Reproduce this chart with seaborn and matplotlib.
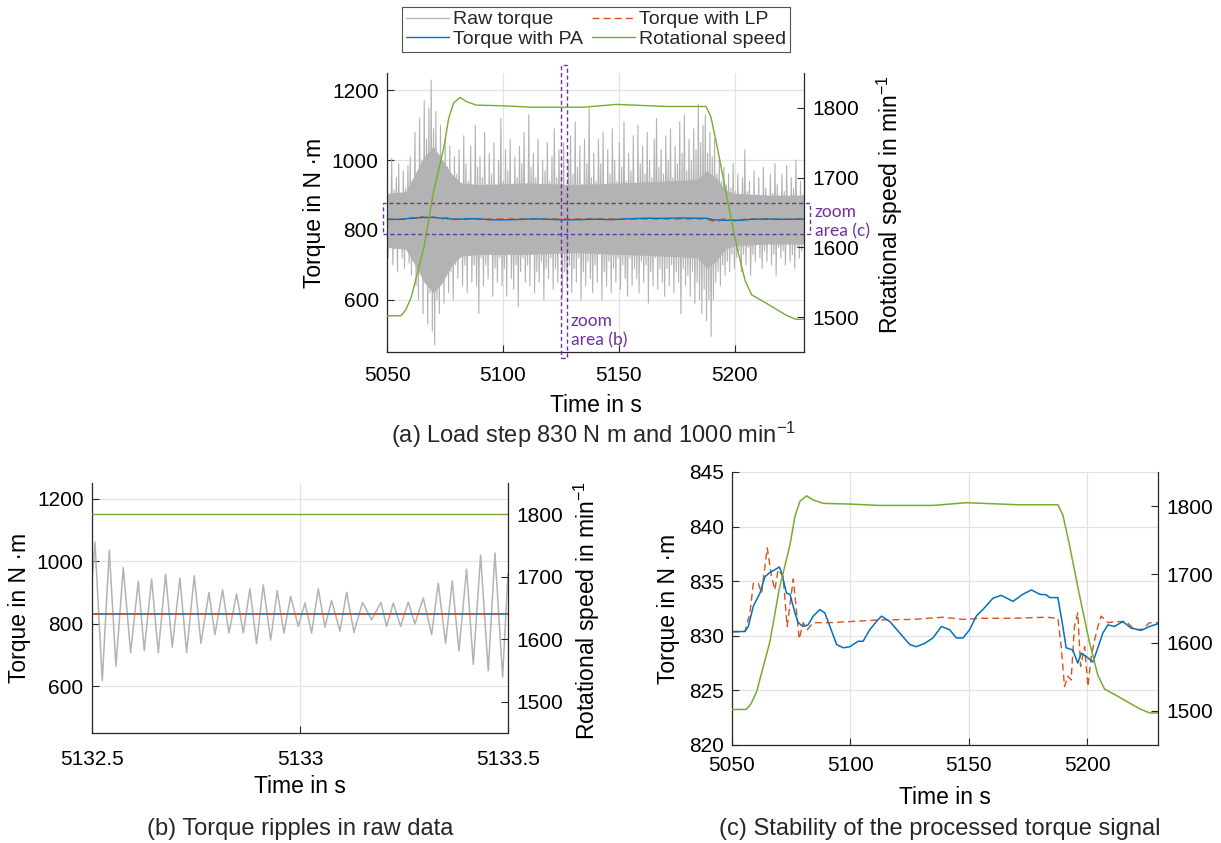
import numpy as np
import matplotlib
matplotlib.use("Agg")
import matplotlib.pyplot as plt
import seaborn as sns
from matplotlib.patches import Rectangle
from matplotlib.lines import Line2D

sns.set_theme(style="white")
plt.rcParams['font.family'] = ['Liberation Sans', 'DejaVu Sans']
plt.rcParams['mathtext.default'] = 'regular'

# ---------------------------------------------------------------- data
# raw torque of the load step, alternating local extremes (N m)
raw_torque = [
    960, 720, 900, 760, 1005, 700, 915, 745, 950, 680, 990, 755, 905, 720, 970, 690, 920, 760, 985, 705,
    1010, 670, 940, 720, 1080, 640, 960, 600, 1120, 690, 1000, 560, 1170, 650, 1060, 530, 1150, 620, 1230, 510,
    1090, 470, 1140, 600, 1010, 560, 1100, 650, 960, 590, 1060, 700, 980, 620, 1040, 680, 940, 600, 1010, 700,
    960, 660, 1030, 740, 920, 640, 1070, 700, 990, 620, 940, 760, 1040, 650, 910, 700, 1100, 640, 980, 560,
    1010, 720, 950, 640, 1080, 700, 930, 660, 1020, 750, 960, 610, 1050, 690, 920, 650, 1000, 720, 1120, 640,
    940, 690, 1030, 610, 970, 740, 1060, 660, 920, 630, 1010, 700, 950, 580, 1040, 680, 990, 720, 1080, 650,
    930, 700, 1130, 640, 980, 730, 1020, 620, 950, 680, 1060, 650, 920, 710, 1000, 600, 970, 690, 1050, 660,
    940, 720, 1010, 630, 1090, 690, 950, 650, 1030, 740, 960, 610, 1050, 680, 920, 640, 1000, 700, 1070, 620,
    960, 690, 1110, 650, 980, 720, 1040, 600, 930, 680, 1060, 640, 990, 710, 1150, 660, 950, 620, 1020, 700,
    940, 650, 1060, 730, 990, 600, 1080, 680, 920, 640, 1030, 710, 960, 620, 1090, 690, 1000, 650, 940, 720,
    1050, 630, 980, 700, 1110, 660, 940, 610, 1020, 720, 970, 640, 1070, 690, 930, 660, 1100, 620, 990, 710,
    1040, 650, 960, 700, 1080, 590, 1000, 680, 950, 640, 1060, 720, 1120, 630, 980, 690, 1030, 650, 960, 610,
    1070, 690, 1000, 640, 1090, 700, 950, 620, 1040, 680, 990, 650, 1110, 560, 1020, 690, 1130, 640, 970, 670,
    1060, 610, 1000, 680, 1090, 590, 1030, 650, 1160, 600, 1050, 560, 1100, 630, 1130, 540, 1020, 600, 1080, 495,
    1010, 600, 1060, 650, 960, 680, 1000, 640, 940, 700, 980, 670, 930, 710, 960, 680, 920, 730, 990, 690,
    910, 720, 960, 740, 890, 680, 950, 730, 1030, 700, 910, 750, 940, 670, 880, 730, 970, 710, 900, 760,
    950, 720, 890, 690, 980, 740, 920, 710, 870, 760, 960, 700, 905, 730, 990, 670, 930, 750, 880, 720,
    960, 740, 910, 700, 985, 760, 890, 710, 950, 730, 920, 690, 1000, 750, 880, 720, 940, 740, 900, 770,
]
raw_time = np.linspace(5050, 5230, len(raw_torque))

# dense core of the raw torque band (N m)
raw_core_time = [5050, 5058, 5062, 5066, 5070, 5074, 5078, 5082, 5090, 5110,
                 5130, 5150, 5170, 5184, 5188, 5192, 5196, 5200, 5215, 5230]
raw_core_high = [905, 910, 960, 1010, 1040, 1000, 960, 935, 930, 935,
                 930, 935, 940, 945, 970, 950, 915, 905, 900, 900]
raw_core_low = [750, 745, 700, 650, 620, 650, 700, 725, 730, 730,
                735, 730, 725, 720, 690, 710, 745, 755, 760, 760]

# low-pass filtered torque (N m)
lp_time = [5050, 5055.5, 5057.6, 5059, 5061.1, 5062.5, 5064.9, 5066.7, 5068.1, 5069.5,
           5071.6, 5073.3, 5075.9, 5078.4, 5080.1, 5081.8, 5084.3, 5091.4, 5099.8, 5112.4,
           5126.5, 5139.1, 5147.6, 5154.6, 5168.7, 5182.8, 5187.7, 5189.1, 5190.5, 5191.9,
           5193.3, 5194.7, 5196.1, 5197.3, 5199, 5200.4, 5201.8, 5203.2, 5204.6, 5206,
           5208.8, 5212.3, 5216.6, 5220.1, 5223.5, 5226.4, 5230]
torque_lp = [830.4, 830.4, 832.1, 834.8, 834.8, 833.9, 838.05, 835.45, 834.2, 836.05,
             835.45, 830.85, 835.2, 829.7, 831.2, 830.55, 831.2, 831.2, 831.3, 831.45,
             831.5, 831.7, 831.5, 831.6, 831.6, 831.7, 831.6, 829.0, 825.35, 826.3,
             825.95, 830.85, 832.1, 827.2, 829.0, 825.35, 828.1, 829.6, 830.85, 831.8,
             831.2, 831.3, 831.3, 830.55, 830.6, 831.2, 831.2]

# phase-averaged torque (N m)
pa_time = [5050, 5055.5, 5056.9, 5059, 5061.8, 5063.9, 5066, 5068.1, 5070, 5071,
           5073, 5074.5, 5076.6, 5078, 5080, 5082.2, 5084.3, 5087.1, 5089.2, 5091.4,
           5094.2, 5097, 5099.8, 5103.3, 5105.4, 5108.2, 5111, 5113.2, 5116.7, 5120.9,
           5125.1, 5127.9, 5131.4, 5134.9, 5138.5, 5142, 5144.8, 5147.6, 5150.4, 5153.2,
           5156, 5160.3, 5163.8, 5168.7, 5172.9, 5176.5, 5180, 5182.8, 5184.2, 5187.7,
           5189.8, 5191.2, 5194, 5196.1, 5197.6, 5199.7, 5202.5, 5204.6, 5206.7, 5208.8,
           5211.6, 5215.1, 5218.7, 5222.9, 5226.4, 5230]
torque_pa = [830.35, 830.4, 830.85, 832.7, 833.9, 835.4, 835.8, 836.05, 836.3, 835.75,
             833.9, 833.8, 832.1, 831.2, 830.85, 831.0, 831.8, 832.4, 832.1, 830.85,
             829.2, 828.9, 829.0, 829.5, 829.5, 830.55, 831.3, 831.8, 831.3, 830.25,
             829.2, 829.0, 829.3, 829.8, 830.85, 830.55, 829.8, 829.8, 830.55, 831.8,
             832.4, 833.45, 833.7, 833.15, 833.8, 834.2, 833.8, 833.75, 833.5, 833.5,
             830.85, 828.9, 828.7, 827.5, 828.4, 828.1, 827.6, 828.9, 830.25, 831.0,
             830.85, 831.3, 830.7, 830.5, 830.85, 831.1]

# rotational speed (1/min)
speed_time = [5050, 5056, 5058, 5060.4, 5066, 5070, 5074.5, 5076.6, 5078.7, 5081.5,
              5084.3, 5088.5, 5100, 5112, 5135, 5149, 5171, 5187.7, 5189.8, 5192.6,
              5196.8, 5201, 5204.6, 5207.4, 5213.7, 5222.2, 5226.4, 5230]
speed = [1502, 1502, 1510, 1528, 1601, 1679, 1743, 1785, 1807, 1815,
         1809, 1804, 1803, 1801, 1801, 1805, 1802, 1802, 1787, 1743,
         1670, 1601, 1552, 1532, 1520, 1503, 1497, 1497]

# one second of raw torque around t = 5133 s (ripple extremes)
ripple_time = 5132.5 + np.array([
    0.0, 0.0072, 0.0248, 0.0417, 0.0577, 0.0753, 0.0930, 0.1114, 0.1258, 0.1434,
    0.1595, 0.1771, 0.1931, 0.2115, 0.2276, 0.2460, 0.2620, 0.2812, 0.2957, 0.3141,
    0.3293, 0.3478, 0.3638, 0.3798, 0.3958, 0.4119, 0.4295, 0.4455, 0.4615, 0.4776,
    0.4960, 0.5120, 0.5280, 0.5441, 0.5601, 0.5761, 0.5962, 0.6122, 0.6298, 0.6506,
    0.6723, 0.6947, 0.7083, 0.7244, 0.7420, 0.7604, 0.7764, 0.7965, 0.8165, 0.8325,
    0.8502, 0.8662, 0.8822, 0.9006, 0.9167, 0.9343, 0.9527, 0.9688, 0.9872, 1.0])
ripple_torque = [930, 1061, 617, 1035, 663, 979, 707, 936, 714, 943,
                 707, 958, 725, 945, 707, 953, 737, 899, 765, 908,
                 770, 895, 770, 911, 736, 924, 747, 905, 770, 887,
                 791, 866, 770, 911, 789, 874, 776, 900, 772, 868,
                 812, 868, 791, 866, 791, 869, 799, 882, 765, 929,
                 737, 936, 712, 974, 670, 1019, 649, 1026, 629, 960]
ripple_span = [5132.5, 5133.5]
ripple_lp = [831.5, 831.5]
ripple_pa = [829.4, 829.4]
ripple_speed = [1800, 1800]

# zoom windows marked in the overview
zoom_b_window = (5125.0, 5127.6)
zoom_c_band = (788, 876)

# ---------------------------------------------------------------- style
C_RAW = '#b3b3b3'
C_LP = '#D95319'
C_PA = '#0072BD'
C_SPD = '#77AC30'
C_ZOOM = '#7030A0'
AXC = '#262626'
TICK_FS = 15
LABEL_FS = 16.5
CAP_FS = 17
LP_DASH = (0, (5, 3))

fig = plt.figure(figsize=(12.21, 8.43), dpi=100)
axA = fig.add_axes([0.3170, 0.5824, 0.3415, 0.3310])
axB = fig.add_axes([0.0753, 0.1305, 0.3407, 0.2966])
axC = fig.add_axes([0.5995, 0.1163, 0.3489, 0.3238])
axA2, axB2, axC2 = axA.twinx(), axB.twinx(), axC.twinx()


def dress(ax, ax2, xlim, xticks, xlabels, ylim, yticks, ylim2, yticks2, xpad):
    ax.set_xlim(*xlim)
    ax.set_ylim(*ylim)
    ax2.set_ylim(*ylim2)
    ax.set_xticks(xticks)
    ax.set_xticklabels(xlabels)
    ax.set_yticks(yticks)
    ax2.set_yticks(yticks2)
    ax.grid(True, color='#e2e2e2', linewidth=0.9)
    ax.set_axisbelow(True)
    ax2.grid(False)
    for s in ('top', 'right'):
        ax.spines[s].set_visible(False)
    for s in ('top', 'left', 'bottom'):
        ax2.spines[s].set_visible(False)
    for sp in (ax.spines['left'], ax.spines['bottom'], ax2.spines['right']):
        sp.set_color(AXC)
        sp.set_linewidth(0.9)
    ax.tick_params(axis='x', bottom=True, top=False, direction='in', length=5,
                   width=0.8, pad=xpad, labelsize=TICK_FS, color=AXC, labelcolor='black')
    ax.tick_params(axis='y', left=True, right=False, direction='in', length=5,
                   width=0.8, pad=6, labelsize=TICK_FS, color=AXC, labelcolor='black')
    ax2.tick_params(axis='y', right=True, left=False, direction='in', length=5,
                    width=0.8, pad=6, labelsize=TICK_FS, color=AXC, labelcolor='black')
    ax.set_xlabel('')
    ax.set_ylabel('')
    ax2.set_ylabel('')


def place_label(axis, text, x, y, rotation=0):
    axis.set_label_text(text, fontsize=LABEL_FS, color='black')
    axis.set_label_coords(x, y)
    axis.label.set_va('center')
    axis.label.set_ha('center')
    axis.label.set_rotation(rotation)


line_kw = dict(estimator=None, sort=False, legend=False)

# ---------------------------------------------------------------- (a) overview
axA.fill_between(raw_core_time, raw_core_low, raw_core_high, color=C_RAW, lw=0, zorder=2)
sns.lineplot(x=raw_time, y=raw_torque, ax=axA, color=C_RAW, linewidth=0.8, **line_kw)
sns.lineplot(x=lp_time, y=torque_lp, ax=axA, color=C_LP, linewidth=1.0, linestyle=LP_DASH, **line_kw)
sns.lineplot(x=pa_time, y=torque_pa, ax=axA, color=C_PA, linewidth=1.0, **line_kw)
sns.lineplot(x=speed_time, y=speed, ax=axA2, color=C_SPD, linewidth=1.0, **line_kw)
dress(axA, axA2, (5050, 5230), [5050, 5100, 5150, 5200], ['5050', '5100', '5150', '5200'],
      (450, 1250), [600, 800, 1000, 1200], (1450, 1850), [1500, 1600, 1700, 1800], xpad=10)

# zoom markers
axA.add_patch(Rectangle((zoom_b_window[0], 433), zoom_b_window[1] - zoom_b_window[0], 839,
                        fill=False, ec=C_ZOOM, lw=1.0, ls=(0, (3, 2)), clip_on=False, zorder=6))
axA.add_patch(Rectangle((5048.3, zoom_c_band[0]), 184.3, zoom_c_band[1] - zoom_c_band[0],
                        fill=False, ec=C_ZOOM, lw=1.0, ls=(0, (3, 2)), clip_on=False, zorder=6))
axA.text(1.026, 0.468, 'zoom\narea (c)', transform=axA.transAxes, ha='left', va='center',
         color=C_ZOOM, fontsize=12.5, family=['Lato', 'DejaVu Sans'], linespacing=1.25)
axA.text(0.441, 0.075, 'zoom\narea (b)', transform=axA.transAxes, ha='left', va='center',
         color=C_ZOOM, fontsize=12.5, family=['Lato', 'DejaVu Sans'], linespacing=1.25)

place_label(axA.xaxis, 'Time in s', 0.5, -0.19)
place_label(axA.yaxis, 'Torque in N \u00b7m', -0.175, 0.5, 90)
place_label(axA2.yaxis, 'Rotational speed in min$^{-1}$', 1.206, 0.527, 90)

# ---------------------------------------------------------------- (b) ripples
sns.lineplot(x=ripple_time, y=ripple_torque, ax=axB, color=C_RAW, linewidth=1.1, **line_kw)
sns.lineplot(x=ripple_span, y=ripple_pa, ax=axB, color=C_PA, linewidth=1.2, **line_kw)
sns.lineplot(x=ripple_span, y=ripple_lp, ax=axB, color=C_LP, linewidth=1.2, linestyle=LP_DASH, **line_kw)
sns.lineplot(x=ripple_span, y=ripple_speed, ax=axB2, color=C_SPD, linewidth=1.0, **line_kw)
dress(axB, axB2, (5132.5, 5133.5), [5132.5, 5133, 5133.5], ['5132.5', '5133', '5133.5'],
      (450, 1250), [600, 800, 1000, 1200], (1450, 1850), [1500, 1600, 1700, 1800], xpad=12)
place_label(axB.xaxis, 'Time in s', 0.5, -0.216)
place_label(axB.yaxis, 'Torque in N \u00b7m', -0.173, 0.5, 90)
place_label(axB2.yaxis, 'Rotational speed in min$^{-1}$', 1.19, 0.49, 90)

# ---------------------------------------------------------------- (c) processed signals
sns.lineplot(x=lp_time, y=torque_lp, ax=axC, color=C_LP, linewidth=1.0, linestyle=LP_DASH, **line_kw)
sns.lineplot(x=pa_time, y=torque_pa, ax=axC, color=C_PA, linewidth=1.1, **line_kw)
sns.lineplot(x=speed_time, y=speed, ax=axC2, color=C_SPD, linewidth=1.1, **line_kw)
dress(axC, axC2, (5050, 5230), [5050, 5100, 5150, 5200], ['5050', '5100', '5150', '5200'],
      (820, 845), [820, 825, 830, 835, 840, 845], (1450, 1850), [1500, 1600, 1700, 1800], xpad=8)
place_label(axC.xaxis, 'Time in s', 0.5, -0.194)
place_label(axC.yaxis, 'Torque in N \u00b7m', -0.148, 0.5, 90)

# ---------------------------------------------------------------- legend and captions
handles = [Line2D([], [], color=C_RAW, lw=1.0),
           Line2D([], [], color=C_PA, lw=1.0),
           Line2D([], [], color=C_LP, lw=1.0, ls=LP_DASH),
           Line2D([], [], color=C_SPD, lw=1.0)]
labels = ['Raw torque', 'Torque with PA', 'Torque with LP', 'Rotational speed']
leg = fig.legend(handles, labels, ncol=2, loc='upper center', bbox_to_anchor=(0.4881, 0.9917),
                 frameon=True, fancybox=False, edgecolor=AXC, fontsize=14, handlelength=2.2,
                 handletextpad=0.2, columnspacing=0.5, borderpad=0.2, labelspacing=0.1,
                 borderaxespad=0.0)
leg.get_frame().set_linewidth(0.8)

fig.text(594 / 1221, 1 - 435 / 843, '(a) Load step 830 N m and 1000 min$^{-1}$',
         ha='center', va='center', fontsize=CAP_FS)
fig.text(300 / 1221, 1 - 829 / 843, '(b) Torque ripples in raw data',
         ha='center', va='center', fontsize=CAP_FS)
fig.text(940 / 1221, 1 - 829 / 843, '(c) Stability of the processed torque signal',
         ha='center', va='center', fontsize=CAP_FS)

fig.savefig('out.png', dpi=100, facecolor='white')
